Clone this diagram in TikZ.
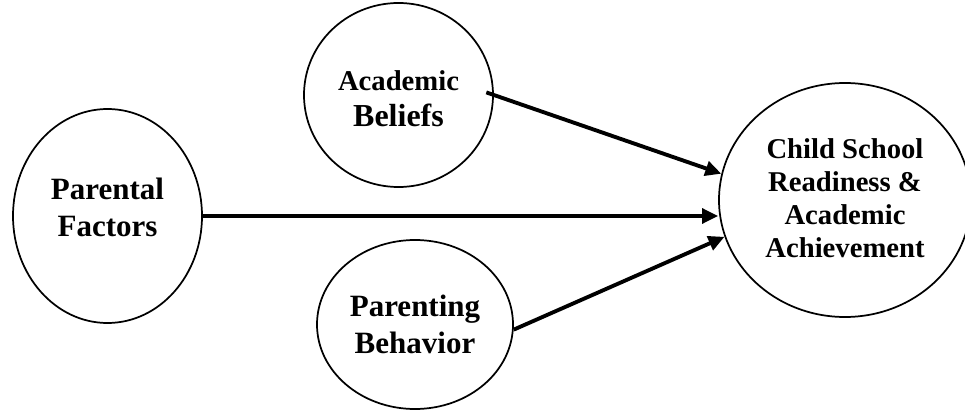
\documentclass[tikz,border=0pt]{standalone}
\usepackage{fontspec}
\setmainfont{Liberation Serif}
\usetikzlibrary{shapes.geometric,arrows.meta}
\begin{document}
\begin{tikzpicture}[x=0.75pt,y=-0.75pt,
  construct/.style={ellipse,draw,line width=1.3pt,inner sep=0pt,align=center},
  big/.style={font=\bfseries\fontsize{23.25}{27.75}\selectfont},
  small/.style={font=\bfseries\fontsize{21.5}{24.75}\selectfont},
  link/.style={line width=2.9pt,-{Triangle[length=12pt,width=11pt]}}]
\useasboundingbox (0,0) rectangle (965,410);

% constructs
\node[construct, big, minimum width=141.75pt, minimum height=160.5pt, text depth=12.8pt] (pf) at (107.5,216)
  {Parental\\Factors};
\node[construct, font=\bfseries\fontsize{24}{27}\selectfont, minimum width=141.75pt, minimum height=138pt] (ab) at (398.5,95)
  {\rule{0pt}{20pt}{\fontsize{21.5}{27}\selectfont Academic}\\Beliefs};
\node[construct, big, minimum width=147pt, minimum height=126.75pt] (pb) at (415,324.5)
  {Parenting\\Behavior};
\node[construct, small, minimum width=189pt, minimum height=175.5pt, text depth=3pt] (ch) at (845,200)
  {Child School\\Readiness \&\\Academic\\Achievement};

% paths
\draw[link, shorten <=-6pt] (ab.east) -- (ch.168);
\draw[link] (pf.east) -- (pf.east -| ch.west);
\draw[link] (pb.-3) -- (ch.197);
\end{tikzpicture}
\end{document}
